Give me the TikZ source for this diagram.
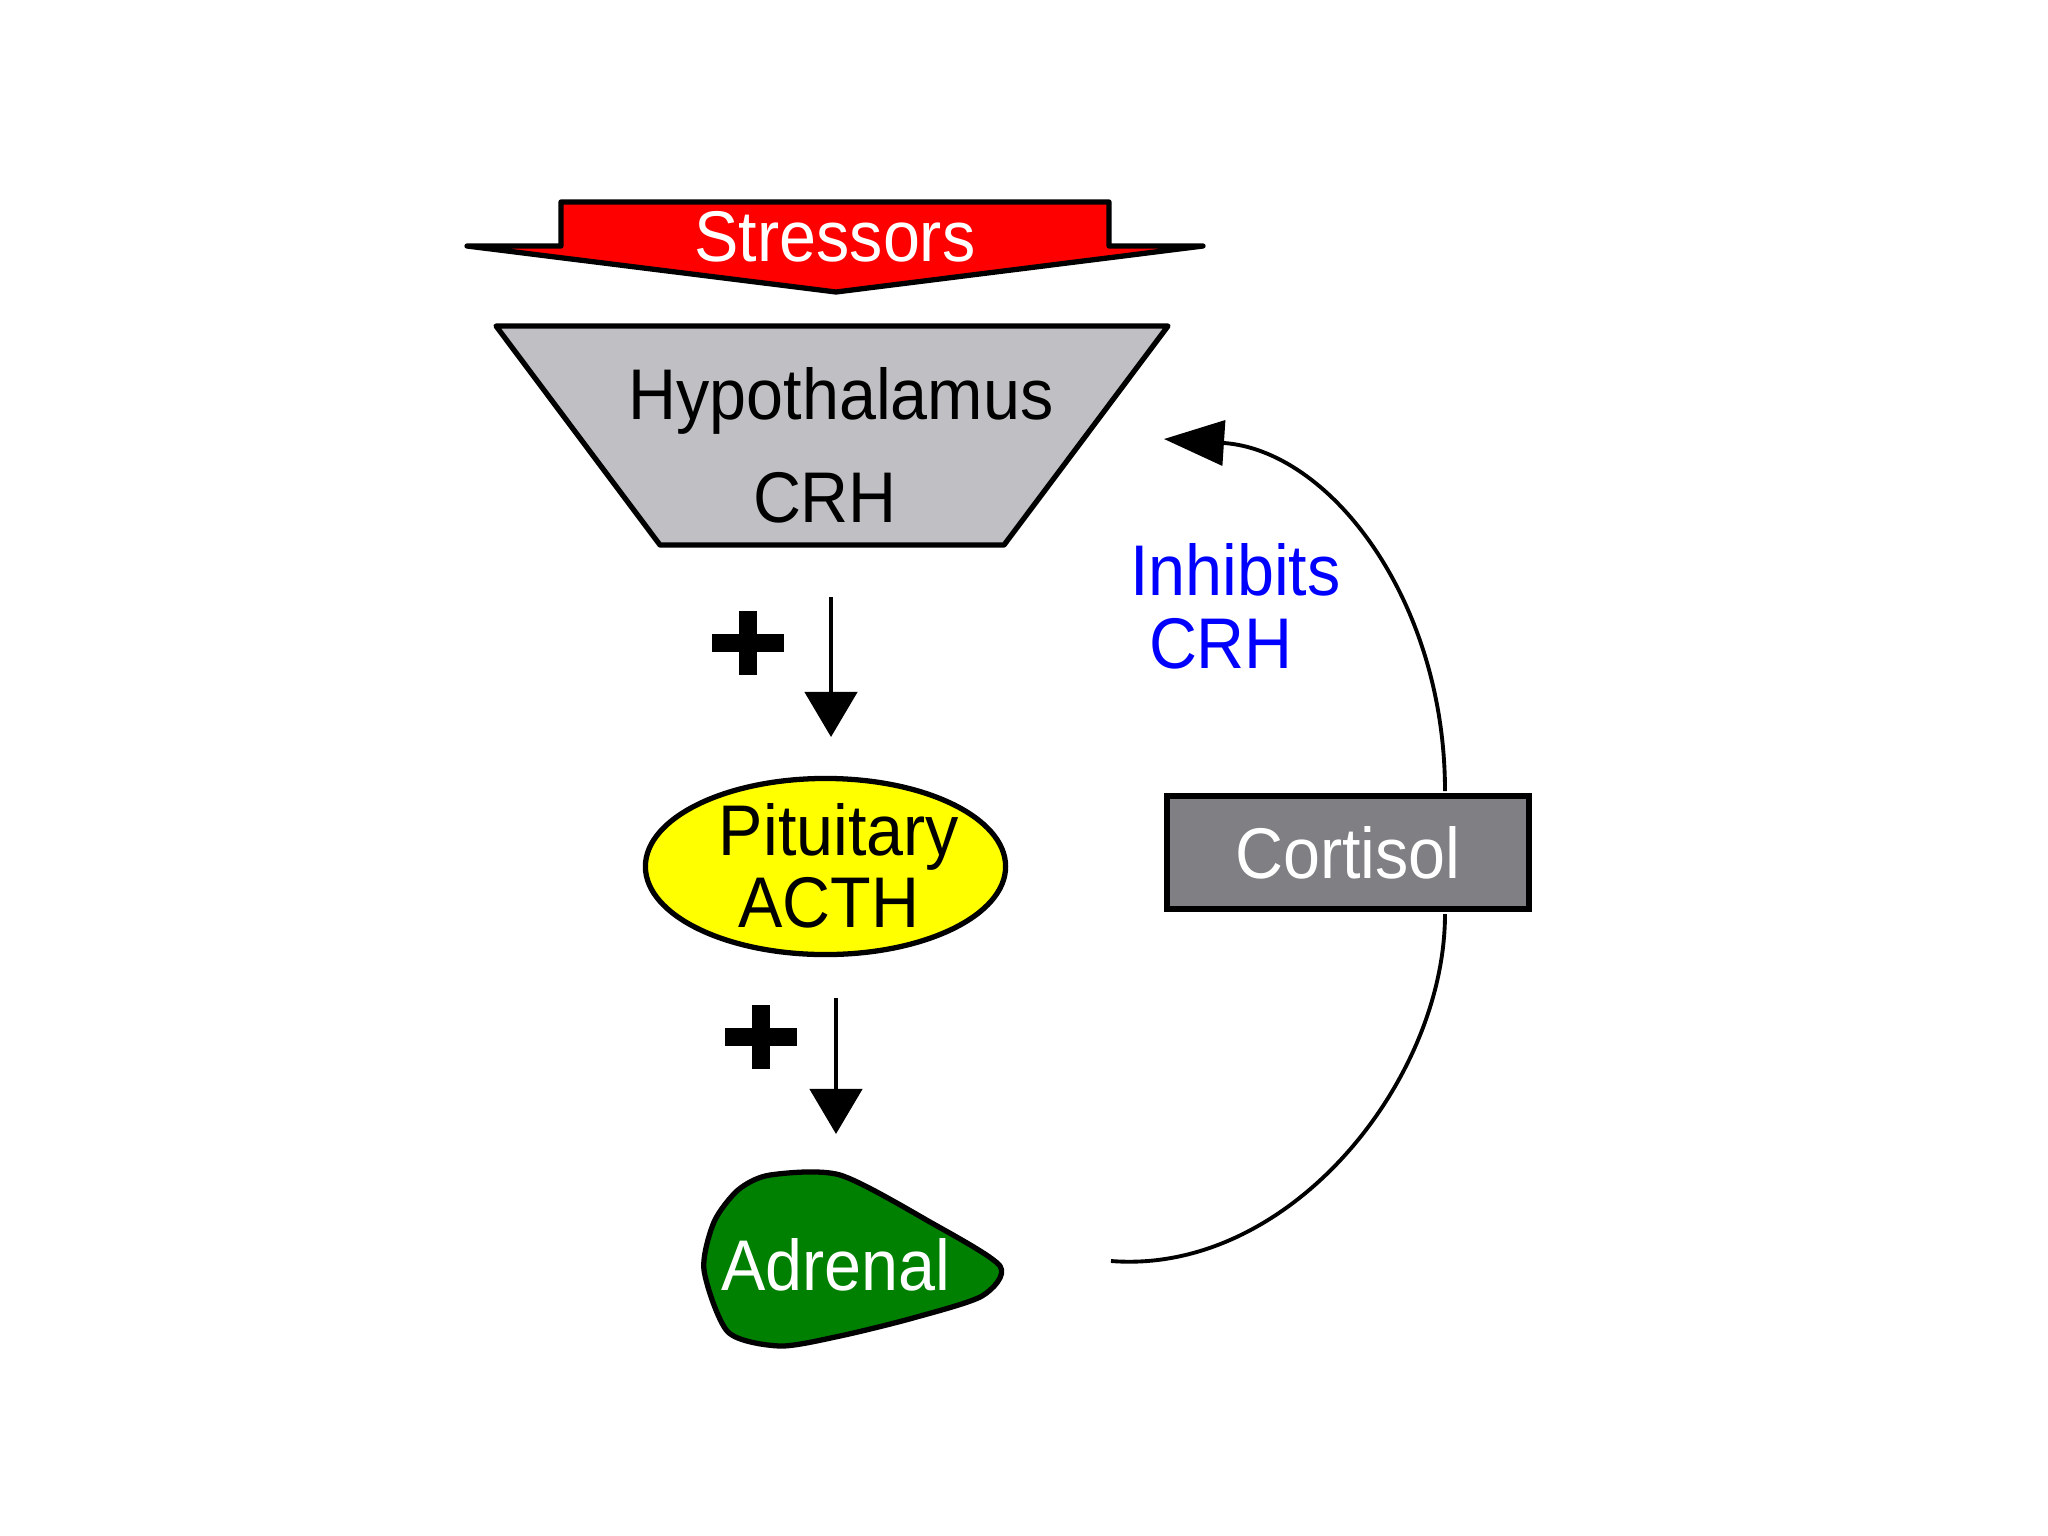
\documentclass[tikz,border=0pt]{standalone}
\usepackage{fontspec}
\setmainfont{Liberation Sans}
\usepackage{graphicx}
\usetikzlibrary{arrows.meta,shapes.geometric}
\definecolor{stressred}{RGB}{255,0,0}
\definecolor{hypogray}{RGB}{192,191,196}
\definecolor{cortgray}{RGB}{128,127,132}
\definecolor{adrgreen}{RGB}{0,128,0}
\definecolor{pityellow}{RGB}{255,255,0}
\definecolor{inhblue}{RGB}{0,0,255}
\newcommand{\pxtext}[1]{\scalebox{1}[1.08]{#1}}
\begin{document}
\begin{tikzpicture}[x=0.01cm,y=-0.01cm,
  outline/.style={draw=black,line width=1.5pt,line join=round},
  lbl/.style={inner sep=0pt,outer sep=0pt,font=\fontsize{18.9}{22}\selectfont},
  downarrow/.style={line width=1.3pt,-{Triangle[length=0.45cm,width=0.52cm]}},
  fbline/.style={line width=1.1pt},
  feedback/.style={fbline,-{Triangle[length=0.6cm,width=0.45cm]}},
  plussign/.style={fill=black},
]
\useasboundingbox[fill=white] (0,0) rectangle (2048,1536);

% Stressors banner
\draw[outline,fill=stressred] (561,202) -- (1109,202) -- (1109,246) -- (1203,246)
  -- (836,292) -- (467,246) -- (561,246) -- cycle;
\node[lbl,text=white,anchor=base] (stress) at (835,261) {\pxtext{Stressors}};

% Hypothalamus trapezoid
\draw[outline,fill=hypogray] (496,326) -- (1168,326) -- (1004,545) -- (660,545) -- cycle;
\node[lbl,anchor=base] (hypo) at (841,419) {\pxtext{Hypothalamus}};
\node[lbl,anchor=base] (hypocrh) at (825,522) {\pxtext{CRH}};

% arrow 1 and plus
\coordinate (a1s) at (831,597);
\coordinate (a1e) at (831,737);
\draw[downarrow] (a1s) -- (a1e);
\fill[plussign] (712,634) rectangle (784,652);
\fill[plussign] (739,611) rectangle (757,675);

% Pituitary
\node[ellipse,draw=black,line width=1.5pt,fill=pityellow,minimum width=3.6cm,
  minimum height=1.76cm,inner sep=0pt] (pit) at (825.5,866.5) {};
\node[lbl,anchor=base] (pittxt) at (839,855) {\pxtext{Pituitary}};
\node[lbl,anchor=base] (acth) at (829,927) {\pxtext{ACTH}};

% arrow 2 and plus
\coordinate (a2s) at (836,998);
\coordinate (a2e) at (836,1134);
\draw[downarrow] (a2s) -- (a2e);
\fill[plussign] (725,1028) rectangle (797,1046);
\fill[plussign] (752,1005) rectangle (770,1069);

% Adrenal
\draw[outline,fill=adrgreen] plot[smooth cycle,tension=0.45] coordinates {
  (770,1175) (840,1175) (930,1222) (1000,1266) (982,1296) (913,1318)
  (840,1336) (780,1346) (728,1332) (704,1270) (714,1222) (738,1190)};
\node[lbl,text=white,anchor=base] (adrenal) at (836,1290) {\pxtext{Adrenal}};

% Cortisol box
\node[lbl,draw=black,fill=cortgray,line width=1.7pt,minimum width=3.62cm,
  minimum height=1.13cm,text=white] (cort) at (1348,852.5) {\pxtext{Cortisol}};

% feedback curve
\coordinate (fbstart) at (1111,1261);
\coordinate (cbot) at (1445,914);
\coordinate (ctop) at (1445,791);
\coordinate (fbend) at (1164,439);
\draw[fbline] (fbstart) .. controls (1290,1275) and (1445,1080) .. (cbot);
\draw[feedback] (ctop) .. controls (1445,600) and (1330,450) .. (fbend);

% Inhibits CRH
\node[lbl,text=inhblue,anchor=base west] (inh) at (1130,595) {\pxtext{Inhibits}};
\node[lbl,text=inhblue,anchor=base west] (inhcrh) at (1149,668) {\pxtext{CRH}};
\end{tikzpicture}
\end{document}
